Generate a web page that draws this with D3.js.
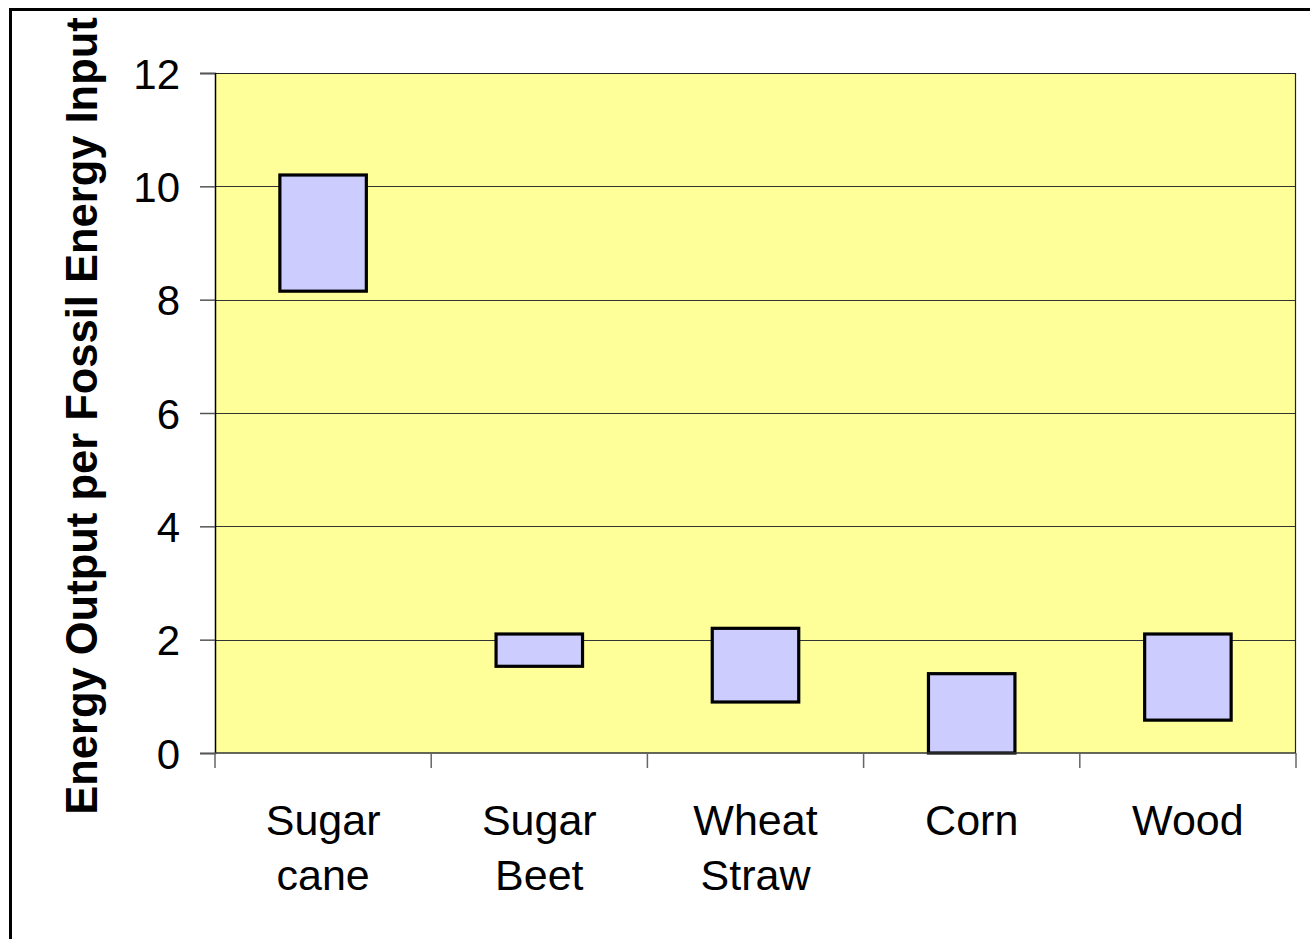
<!DOCTYPE html>
<html>
<head>
<meta charset="utf-8">
<script src="https://cdn.jsdelivr.net/npm/d3@7"></script>
<style>
  html, body { margin: 0; padding: 0; background: #ffffff; }
  svg { display: block; }
  text { font-family: Arial, "Liberation Sans", sans-serif; fill: #000; }
</style>
</head>
<body>
<script>
// Energy return ranges for biofuel feedstocks
const categories = [["Sugar", "cane"], ["Sugar", "Beet"], ["Wheat", "Straw"], ["Corn"], ["Wood"]];
const lowValues  = [8.15, 1.53, 0.9, 0, 0.58];
const highValues = [10.2, 2.1, 2.2, 1.4, 2.1];
const yTicks = [0, 2, 4, 6, 8, 10, 12];
const yTitle = "Energy Output per Fossil Energy Input";

const W = 1310, H = 939;
const plot = { left: 215, right: 1296, top: 73, bottom: 753 };

const svg = d3.select("body").append("svg")
  .attr("width", W).attr("height", H);

// outer frame
svg.append("rect")
  .attr("x", 10.5).attr("y", 9.5)
  .attr("width", W).attr("height", H)
  .attr("fill", "#ffffff").attr("stroke", "#000").attr("stroke-width", 3);

const x = d3.scaleBand()
  .domain(d3.range(categories.length))
  .range([plot.left, plot.right])
  .paddingInner(0).paddingOuter(0);

const y = d3.scaleLinear().domain([0, 12]).range([plot.bottom, plot.top]);

// plot background
svg.append("rect")
  .attr("x", plot.left).attr("y", plot.top)
  .attr("width", plot.right - plot.left).attr("height", plot.bottom - plot.top)
  .attr("fill", "#FFFF99");

// horizontal gridlines
svg.append("g")
  .selectAll("line")
  .data(yTicks.filter(d => d > 0))
  .join("line")
  .attr("x1", plot.left).attr("x2", plot.right)
  .attr("y1", d => Math.round(y(d)) + 0.5).attr("y2", d => Math.round(y(d)) + 0.5)
  .attr("stroke", "#333").attr("stroke-width", 1);

// plot border (top, right)
svg.append("path")
  .attr("d", `M${plot.left},${plot.top + 0.5}H${plot.right - 0.5}V${plot.bottom}`)
  .attr("fill", "none").attr("stroke", "#222").attr("stroke-width", 1.2);

// floating range bars
const barW = x.bandwidth() * 0.4;
svg.append("g")
  .selectAll("rect")
  .data(categories.map((c, i) => ({ i, lo: lowValues[i], hi: highValues[i] })))
  .join("rect")
  .attr("x", d => x(d.i) + (x.bandwidth() - barW) / 2)
  .attr("y", d => y(d.hi))
  .attr("width", barW)
  .attr("height", d => y(d.lo) - y(d.hi))
  .attr("fill", "#CCCCFF")
  .attr("stroke", "#000")
  .attr("stroke-width", 3.2);

// y axis
const yAxis = svg.append("g")
  .attr("transform", `translate(${plot.left},0)`)
  .call(d3.axisLeft(y).tickValues(yTicks).tickSize(15).tickPadding(20).tickFormat(d3.format("d")));
yAxis.select(".domain").attr("stroke", "#000").attr("stroke-width", 1.5);
yAxis.selectAll(".tick line").attr("stroke", "#555").attr("stroke-width", 1.5);
yAxis.selectAll(".tick text")
  .attr("font-size", 42).attr("dy", "0.36em")
  .style("font-family", "Arial, 'Liberation Sans', sans-serif");

// x axis
const xTickPos = d3.range(categories.length + 1).map(i => plot.left + i * x.step());
const xAxisG = svg.append("g");
xAxisG.append("line")
  .attr("x1", plot.left).attr("x2", plot.right)
  .attr("y1", plot.bottom).attr("y2", plot.bottom)
  .attr("stroke", "#333").attr("stroke-width", 1.5);
xAxisG.selectAll("line.tk")
  .data(xTickPos)
  .join("line").attr("class", "tk")
  .attr("x1", d => d).attr("x2", d => d)
  .attr("y1", plot.bottom).attr("y2", plot.bottom + 15)
  .attr("stroke", "#666").attr("stroke-width", 1.5);

// category labels
const lab = svg.append("g")
  .selectAll("text")
  .data(categories)
  .join("text")
  .attr("text-anchor", "middle")
  .attr("font-size", 43)
  .attr("x", (d, i) => x(i) + x.bandwidth() / 2)
  .attr("y", 835);
lab.selectAll("tspan")
  .data(d => d)
  .join("tspan")
  .attr("x", function () { return d3.select(this.parentNode).attr("x"); })
  .attr("dy", (d, j) => j === 0 ? 0 : 55)
  .text(d => d);

// y axis title
svg.append("text")
  .attr("transform", `translate(97,416) rotate(-90)`)
  .attr("text-anchor", "middle")
  .attr("font-size", 43.5)
  .attr("font-weight", "bold")
  .text(yTitle);
</script>
</body>
</html>
